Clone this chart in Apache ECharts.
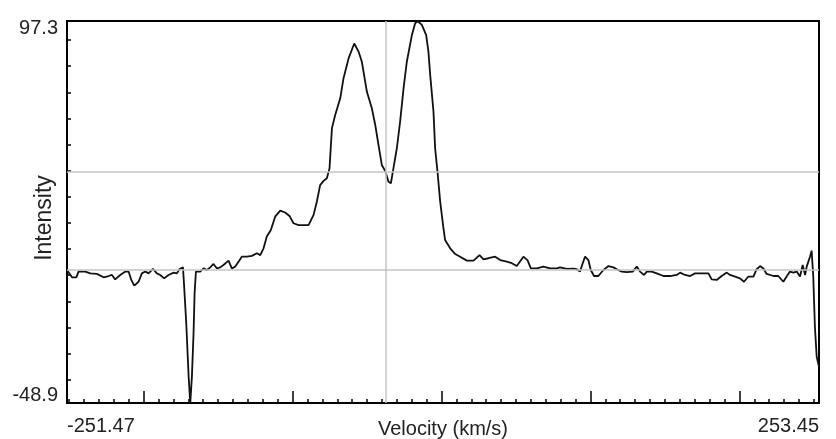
<!DOCTYPE html>
<html lang="en">

<head>
    <meta charset="UTF-8">
    <title>Velocity spectrum</title>
    <script src="https://cdn.jsdelivr.net/npm/echarts@6/dist/echarts.min.js"></script>
</head>

<body style="margin:0;background-color:#fff;">
    <div id="main" style="position:absolute;left:0;top:0;width:836px;height:439px"></div>

    <script>
        // spectrum (km/s, intensity)
        var velocity = [-251.47, -248.1, -245.2, -243.7, -239.2, -235.8, -231.4, -226.9, -223.5, -221.3, -219.1, -215.7,
            -212.3, -210.1, -208.3, -206.3, -203.4, -201.2, -198.9, -196.7, -193.8, -191.1, -188.9, -186.2, -183.3,
            -179.9, -177.7, -175.9, -173.6, -172.8, -171.4, -169.8, -168.7, -167.6, -166.5, -165.8, -164.9, -162.0,
            -159.8, -157.5, -155.3, -153.1, -150.8, -148.6, -146.4, -143.0, -140.8, -138.5, -136.3, -134.1, -130.7,
            -127.3, -124.0, -121.7, -119.5, -117.3, -114.6, -111.7, -108.3, -105.0, -102.1, -99.4, -96.0, -89.3,
            -85.9, -83.7, -81.5, -79.2, -77.0, -75.2, -73.6, -71.4, -68.0, -65.8, -62.4, -58.6, -55.7, -53.5, -50.1,
            -46.8, -44.5, -42.3, -40.1, -37.8, -35.6, -34.0, -32.3, -30.0, -27.8, -25.5, -23.3, -19.9, -17.7, -16.1,
            -13.2, -10.3, -8.8, -7.6, -5.4, -4.3, -2.7, -0.9, 1.3, 2.4, 5.8, 9.2, 12.5, 17.0, 21.5, 25.5, 28.2,
            31.5, 36.0, 39.4, 43.8, 47.2, 50.5, 55.0, 57.7, 60.0, 64.0, 68.4, 72.9, 77.4, 79.6, 84.1, 88.6, 90.8,
            93.0, 94.8, 96.4, 98.6, 100.2, 102.4, 105.3, 108.7, 112.1, 115.4, 117.7, 121.0, 124.4, 128.4, 131.1,
            133.3, 136.0, 137.8, 141.1, 144.5, 149.0, 153.4, 157.9, 160.2, 163.5, 166.9, 170.2, 175.8, 179.2,
            181.4, 184.8, 188.1, 191.5, 193.7, 197.1, 200.4, 203.1, 206.0, 209.4, 211.6, 213.9, 216.1, 218.3,
            222.8, 226.1, 229.5, 231.7, 234.0, 236.2, 238.5, 240.7, 242.5, 244.1, 245.2, 246.3, 247.4, 248.5,
            249.6, 250.7, 251.9, 253.45];
        var intensity = [2.0, -0.8, -0.8, 1.4, 1.4, 0.7, 0.5, -0.8, -0.3, 0.1, -1.6, 0.1,
            1.4, 1.4, -1.8, -4.0, -2.5, 0.7, 1.4, 0.7, 2.4, 0.7, 0.1, -1.2, 0.1,
            1.0, 0.7, 2.4, 3.0, -4.4, -18.4, -38.8, -48.9, -38.8, -22.2, -6.9, 1.4, 1.4,
            2.6, 2.0, 3.0, 4.3, 2.6, 3.0, 3.9, 5.6, 2.6, 3.3, 5.2, 7.1, 7.1,
            7.4, 8.4, 7.7, 10.3, 14.8, 17.3, 22.4, 24.7, 24.0, 22.7, 19.9, 19.2, 19.2,
            23.1, 28.2, 34.5, 36.1, 37.1, 40.9, 56.2, 61.3, 67.7, 75.4, 83.0, 88.7, 85.6, 81.7, 70.2,
            63.9, 57.5, 49.8, 42.2, 39.9, 35.8, 35.2, 40.9, 48.6, 58.8, 71.5, 81.7, 91.9, 96.4, 97.3,
            95.8, 91.9, 85.6, 76.6, 62.6, 48.6, 39.6, 28.2, 17.9, 13.5, 10.3, 8.1, 7.1, 5.6, 5.6, 7.7, 6.1,
            6.5, 7.1, 5.8, 5.2, 4.6, 3.5, 7.1, 5.8, 2.6, 2.6, 3.3, 2.6, 2.6, 3.0, 2.4, 2.5, 2.3,
            1.4, 4.6, 7.1, 5.8, 2.0, -0.3, -0.3, 2.0, 3.5, 3.0, 2.3, 1.4, 1.2, 1.4, 3.3,
            1.4, 0.1, 1.4, 1.4, 0.7, -0.3, -0.3, 0.1, 1.0, 0.1, -0.3, 0.7, 0.7, 0.7,
            -1.6, -1.8, -0.3, 1.0, 0.1, -0.5, -1.2, -2.5, -0.5, -0.5, 2.3, 3.5, 2.6, 0.5,
            -0.3, -0.3, -2.5, -0.5, 1.4, 1.0, 1.4, -0.5, 3.9, 0.1, 3.3, 5.2, 7.1, 9.4,
            -0.5, -19.7, -31.2, -35.0];

        var xMin = -251.47, xMax = 253.45;
        var yMin = -48.9, yMax = 97.3;
        var xMajorTicks = [-200, -100, 0, 100, 200];
        var xMinorTicks = [];
        for (var v = -250; v <= 250; v += 10) xMinorTicks.push(v);
        var yTicks = [-40, -30, -20, -10, 0, 10, 20, 30, 40, 50, 60, 70, 80, 90];
        var hLines = [39.5, 2.0];
        var vLines = [-37.2];

        var data = velocity.map(function(x, i) { return [x, intensity[i]]; });
        var font = '"Liberation Sans", Arial, sans-serif';

        var gridMarks = [];
        hLines.forEach(function(y) { gridMarks.push({ yAxis: y }); });
        vLines.forEach(function(x) { gridMarks.push({ xAxis: x }); });

        var myCharts = echarts.init(document.getElementById('main'));
        myCharts.setOption({
            animation: false,
            grid: {
                left: 67, right: 17, top: 21, bottom: 36,
                outerBoundsMode: 'none', containLabel: false,
                show: true, borderColor: '#000', borderWidth: 2
            },
            xAxis: [{
                type: 'value', min: xMin, max: xMax,
                name: 'Velocity (km/s)', nameLocation: 'middle', nameGap: 16, nameMoveOverlap: false,
                nameTextStyle: { fontFamily: font, fontSize: 20, color: '#222', verticalAlign: 'top' },
                splitLine: { show: false },
                axisLine: { onZero: false, lineStyle: { color: '#000', width: 2 } },
                axisTick: { inside: true, length: 12, customValues: xMajorTicks, lineStyle: { color: '#000', width: 1.5 } },
                axisLabel: {
                    customValues: [xMin, xMax], margin: 13,
                    alignMinLabel: 'left', alignMaxLabel: 'right',
                    fontFamily: font, fontSize: 20, color: '#222',
                    formatter: function(v) { return v.toFixed(2); }
                }
            }, {
                type: 'value', min: xMin, max: xMax, position: 'bottom',
                splitLine: { show: false },
                axisLine: { show: false, onZero: false },
                axisTick: { inside: true, length: 4, customValues: xMinorTicks, lineStyle: { color: '#000', width: 1.5 } },
                axisLabel: { show: false }
            }],
            yAxis: {
                type: 'value', min: yMin, max: yMax,
                name: 'Intensity', nameLocation: 'middle', nameGap: 11, nameMoveOverlap: false,
                nameTextStyle: { fontFamily: font, fontSize: 23, color: '#222', padding: [0, 12, 0, 0] },
                splitLine: { show: false },
                axisLine: { onZero: false, lineStyle: { color: '#000', width: 2 } },
                axisTick: { inside: true, length: 4, customValues: yTicks, lineStyle: { color: '#000', width: 1.5 } },
                axisLabel: {
                    customValues: [yMin, yMax], margin: 9,
                    fontFamily: font, fontSize: 20, color: '#222',
                    formatter: function(v) {
                        return v > 0 ? '{hi|' + v.toFixed(1) + '}' : '{lo|' + v.toFixed(1) + '}';
                    },
                    rich: {
                        hi: { fontFamily: font, fontSize: 20, color: '#222', padding: [14, 0, 0, 0] },
                        lo: { fontFamily: font, fontSize: 20, color: '#222', padding: [0, 0, 16, 0] }
                    }
                }
            },
            series: [{
                type: 'line', data: [], z: 1,
                markLine: {
                    silent: true, symbol: 'none', label: { show: false },
                    lineStyle: { color: '#c4c4c4', width: 1.5, type: 'solid' },
                    data: gridMarks
                }
            }, {
                type: 'line', data: data, z: 2,
                showSymbol: false,
                lineStyle: { color: '#111', width: 1.8 }
            }]
        });
    </script>
</body>

</html>
